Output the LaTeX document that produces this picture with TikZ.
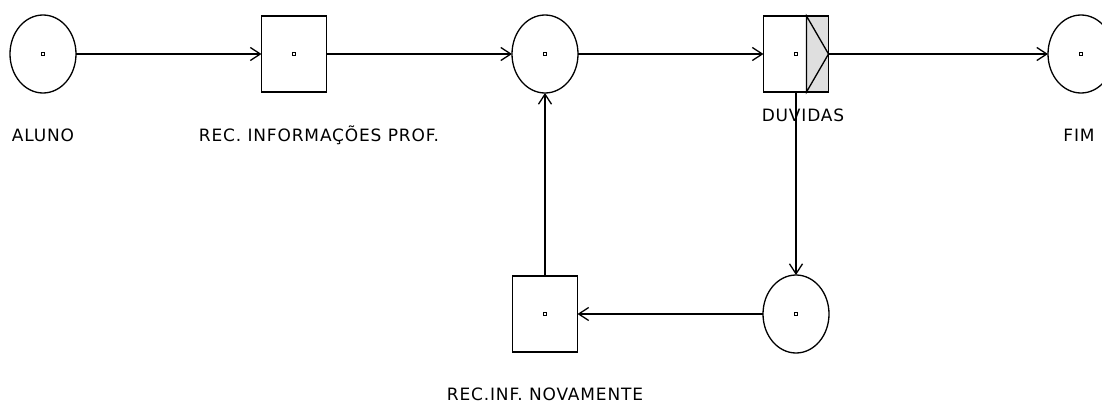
\documentclass[tikz,border=0pt]{standalone}
\usepackage{fontspec}
\setmainfont{DejaVu Sans}[LetterSpace=5]
\usetikzlibrary{shapes.geometric,arrows.meta}
\begin{document}
\begin{tikzpicture}[x=1pt,y=-1pt,line width=1.3pt,
    ponto/.style={path picture={\draw[line width=0.9pt]
      ([shift={(-1.8pt,-1.8pt)}]path picture bounding box.center) rectangle
      ([shift={(1.8pt,1.8pt)}]path picture bounding box.center);}},
    lugar/.style={draw,ellipse,minimum width=66pt,minimum height=78pt,inner sep=0pt,outer sep=0pt,ponto},
    transicao/.style={draw,rectangle,minimum width=65pt,minimum height=76pt,inner sep=0pt,outer sep=0pt,ponto},
    rotulo/.style={anchor=base,inner sep=0pt,font=\fontsize{17}{19}\selectfont}]
  \useasboundingbox (0,0) rectangle (1102,404);
  \draw
    (43,54) node[lugar] (aluno){}
    (294,54) node[transicao] (recprof){}
    (545,54) node[lugar] (meio){}
    (796,54) node[transicao] (duvidas){}
    (1081,54) node[lugar] (fim){}
    (796,314) node[lugar] (baixo){}
    (545,314) node[transicao] (recnov){};
  \fill[gray!25] ([xshift=-22pt]duvidas.north east) rectangle (duvidas.south east);
  \draw ([xshift=-22pt]duvidas.north east) -- (duvidas.east) -- ([xshift=-22pt]duvidas.south east) -- cycle;
  \draw (duvidas.north west) rectangle (duvidas.south east);
  \node[rotulo] (taluno) at (43,141) {ALUNO};
  \node[rotulo] (trecprof) at (319,141) {REC. INFORMAÇÕES PROF.};
  \node[rotulo] (tduvidas) at (803,121) {DUVIDAS};
  \node[rotulo] (tfim) at (1079,141) {FIM};
  \node[rotulo] (trecnov) at (545,400) {REC.INF. NOVAMENTE};
  \begin{scope}[-{Straight Barb[length=10pt,width=13pt]}]
    \draw (aluno) to (recprof);
    \draw (recprof) to (meio);
    \draw (meio) to (duvidas);
    \draw (duvidas) to (fim);
    \draw (duvidas.south) to (baixo);
    \draw (baixo) to (recnov);
    \draw (recnov) to (meio);
  \end{scope}
\end{tikzpicture}
\end{document}
